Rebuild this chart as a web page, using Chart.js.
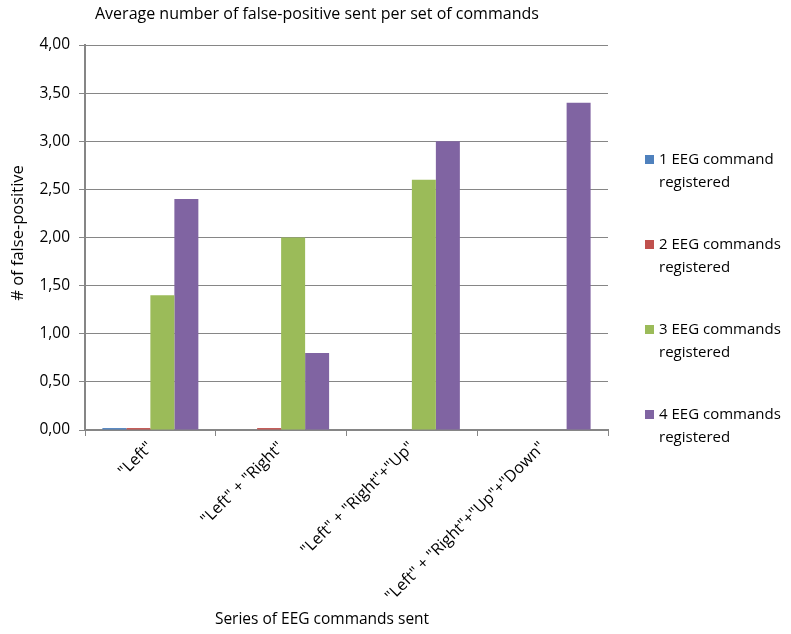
<!DOCTYPE html>
<html>
<head>
<meta charset="utf-8">
<script src="https://cdn.jsdelivr.net/npm/chart.js@4/dist/chart.umd.min.js"></script>
<style>
html,body{margin:0;padding:0;background:#fff;}
#wrap{width:791px;height:634px;position:relative;}
</style>
</head>
<body>
<div id="wrap"><canvas id="c" width="791" height="634"></canvas></div>
<script>
const categories = ['"Left"', '"Left" + "Right"', '"Left" + "Right"+"Up"', '"Left" + "Right"+"Up"+"Down"'];
const seriesNames = [
  ['1 EEG command', 'registered'],
  ['2 EEG commands', 'registered'],
  ['3 EEG commands', 'registered'],
  ['4 EEG commands', 'registered']
];
const oneCmd = [0.02, 0, 0, 0];
const twoCmd = [0.02, 0.02, 0, 0];
const threeCmd = [1.4, 2.0, 2.6, 0];
const fourCmd = [2.4, 0.8, 3.0, 3.4];
const colors = ['#4F81BD', '#C0504D', '#9BBB59', '#8064A2'];
const yTicks = [0, 0.5, 1, 1.5, 2, 2.5, 3, 3.5, 4];
const chartTitle = 'Average number of false-positive sent per set of commands';
const xTitle = 'Series of EEG commands sent';
const yTitle = '# of false-positive';

const FONT = '"Open Sans", sans-serif';
const gridColor = '#868686';

const values = [oneCmd, twoCmd, threeCmd, fourCmd];

const extras = {
  id: 'extras',
  afterDraw(chart) {
    const ctx = chart.ctx;
    ctx.save();
    ctx.fillStyle = '#000';
    ctx.textBaseline = 'middle';
    ctx.font = '16px ' + FONT;
    ctx.textAlign = 'left';
    ctx.fillText(chartTitle, 95, 14);
    ctx.font = '15.5px ' + FONT;
    ctx.textAlign = 'center';
    ctx.fillText(xTitle, 322, 620);
    ctx.save();
    ctx.font = '16.5px ' + FONT;
    ctx.translate(18, 233);
    ctx.rotate(-Math.PI / 2);
    ctx.fillText(yTitle, 0, 0);
    ctx.restore();
    // legend
    ctx.textAlign = 'left';
    ctx.font = '15px ' + FONT;
    chart.data.datasets.forEach((ds, i) => {
      const y0 = 160 + i * 85;
      ctx.fillStyle = ds.backgroundColor;
      ctx.fillRect(645, y0 - 5, 9, 9);
      ctx.fillStyle = '#000';
      const lines = seriesNames[i];
      lines.forEach((ln, j) => ctx.fillText(ln, 659, y0 + j * 23));
    });
    ctx.restore();
  }
};

new Chart(document.getElementById('c'), {
  type: 'bar',
  data: {
    labels: categories,
    datasets: values.map((v, i) => ({
      label: seriesNames[i].join(' '),
      data: v,
      backgroundColor: colors[i],
      borderWidth: 0,
      categoryPercentage: 0.734,
      barPercentage: 1.0
    }))
  },
  options: {
    responsive: false,
    animation: false,
    layout: { padding: { left: 0, right: 183, top: 45, bottom: 0 } },
    plugins: { legend: { display: false }, title: { display: false }, tooltip: { enabled: false } },
    scales: {
      x: {
        grid: { display: true, drawOnChartArea: false, drawTicks: true, tickLength: 6, color: gridColor, offset: true },
        border: { display: true, color: gridColor, width: 2 },
        ticks: { color: '#000', font: { family: FONT, size: 16 }, minRotation: 45, maxRotation: 45, padding: 2 },
        afterFit(scale) { scale.height = 204; }
      },
      y: {
        min: 0, max: 4,
        afterBuildTicks(scale) { scale.ticks = yTicks.map(v => ({ value: v })); },
        grid: { color: gridColor, lineWidth: 1, drawTicks: true, tickLength: 6 },
        border: { display: true, color: gridColor, width: 2 },
        ticks: {
          color: '#000', font: { family: FONT, size: 15.5 }, padding: 9,
          callback: v => Number(v).toFixed(2).replace('.', ',')
        },
        afterFit(scale) { scale.width = 85; }
      }
    }
  },
  plugins: [extras]
});
</script>
</body>
</html>
